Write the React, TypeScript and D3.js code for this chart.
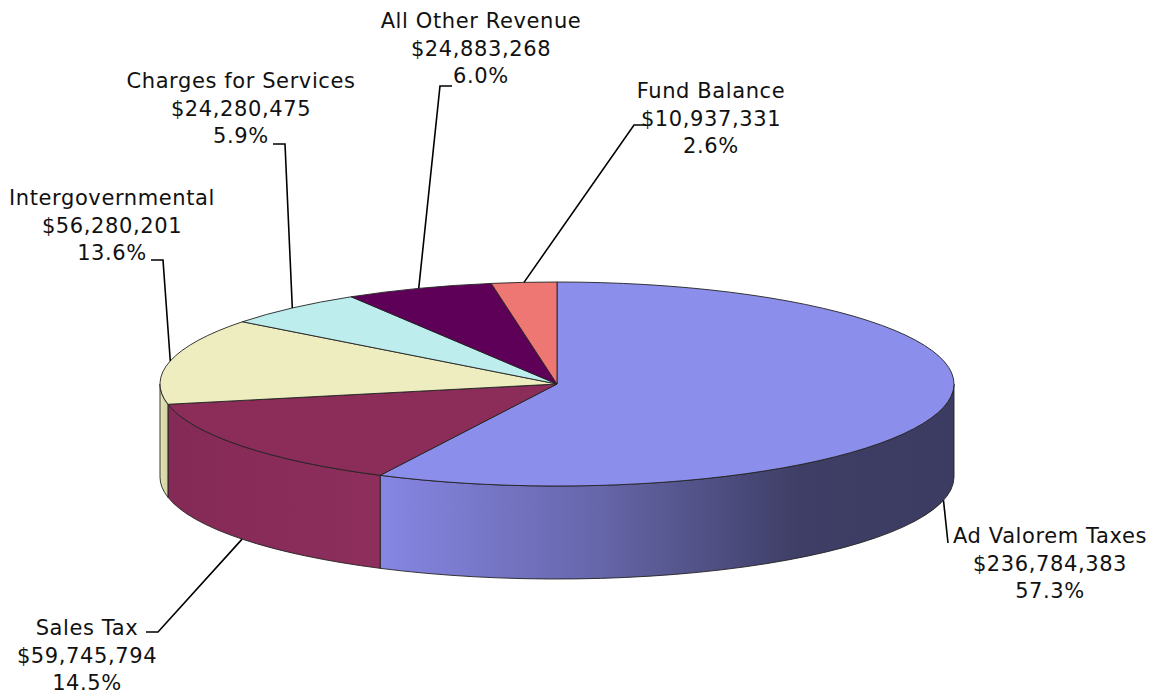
import React from 'react';
import * as d3 from 'd3';

const categories = ['Ad Valorem Taxes', 'Sales Tax', 'Intergovernmental', 'Charges for Services', 'All Other Revenue', 'Fund Balance'];
const amounts = [236784383, 59745794, 56280201, 24280475, 24883268, 10937331];
const percents = ['57.3%', '14.5%', '13.6%', '5.9%', '6.0%', '2.6%'];
const topColors = ['#8B8EEA', '#8B2D58', '#EEEDC0', '#BDEDED', '#5E0058', '#EE7774'];
const sideColors = [
  ['#8686E4', '#6666AA', '#3E3E66', '#3C3C62'],
  ['#842A56', '#882B58', '#8A2D5A', '#8E2E5C'],
  ['#E6E6B6', '#DCDCAC', '#D8D8A8', '#D4D4A4'],
  ['#BDEDED', '#BDEDED', '#BDEDED', '#BDEDED'],
  ['#5E0058', '#5E0058', '#5E0058', '#5E0058'],
  ['#EE7774', '#EE7774', '#EE7774', '#EE7774'],
];

// label layout: text centre x, first line centre y, elbow point, end of the short tick
const labelLayout = [
  { tx: 1050, ty: 536, elbow: [948, 543], tick: [948, 543] },
  { tx: 87, ty: 628, elbow: [158, 632], tick: [146, 632] },
  { tx: 112, ty: 198, elbow: [163, 260], tick: [151, 260] },
  { tx: 241, ty: 81, elbow: [285, 144], tick: [273, 144] },
  { tx: 481, ty: 21, elbow: [440, 86], tick: [452, 86] },
  { tx: 711, ty: 91, elbow: [634, 125], tick: [646, 125] },
];

const W = 1164, H = 696;
const cx = 557, cy = 384, rx = 397, ry = 102, depth = 93;

const pt = (a: number, dy = 0): [number, number] => [cx + rx * Math.sin(a), cy - ry * Math.cos(a) + dy];

function topPath(a0: number, a1: number) {
  const p0 = pt(a0), p1 = pt(a1);
  const large = a1 - a0 > Math.PI ? 1 : 0;
  return `M${cx},${cy}L${p0[0]},${p0[1]}A${rx},${ry} 0 ${large} 1 ${p1[0]},${p1[1]}Z`;
}

function sidePath(a0: number, a1: number) {
  const s0 = Math.max(a0, Math.PI / 2), s1 = Math.min(a1, Math.PI * 1.5);
  if (s0 >= s1) return null;
  const p0 = pt(s0), p1 = pt(s1), q0 = pt(s0, depth), q1 = pt(s1, depth);
  return `M${p0[0]},${p0[1]}A${rx},${ry} 0 0 1 ${p1[0]},${p1[1]}L${q1[0]},${q1[1]}A${rx},${ry} 0 0 0 ${q0[0]},${q0[1]}Z`;
}

const fmt = d3.format('$,');

export default function App() {
  const pie = d3.pie<number>().sort(null).startAngle(0).endAngle(2 * Math.PI);
  const arcs = pie(amounts);

  return (
    <svg width={W} height={H} style={{ position: 'absolute', left: 0, top: 0, background: '#fff' }}
      fontFamily="'DejaVu Sans', sans-serif" fontSize={21}>
      <defs>
        {arcs.map((a, i) => {
          const s0 = Math.max(a.startAngle, Math.PI / 2), s1 = Math.min(a.endAngle, Math.PI * 1.5);
          const xs = [pt(s0)[0], pt(s1)[0]];
          return (
            <linearGradient key={i} id={`side${i}`} gradientUnits="userSpaceOnUse"
              x1={Math.min(...xs)} x2={Math.max(...xs)} y1={0} y2={0}>
              {sideColors[i].map((c, j) => (
                <stop key={j} offset={i === 0 ? [0, 0.38, 0.73, 1][j] : j / 3} stopColor={c} />
              ))}
            </linearGradient>
          );
        })}
      </defs>
      <g>
        {arcs.map((a, i) => {
          const d = sidePath(a.startAngle, a.endAngle);
          return d ? <path key={i} d={d} fill={`url(#side${i})`} stroke="#222" strokeWidth={0.9} strokeLinejoin="round" /> : null;
        })}
      </g>
      <g>
        {arcs.map((a, i) => (
          <path key={i} d={topPath(a.startAngle, a.endAngle)} fill={topColors[i]} stroke="#222" strokeWidth={0.9} strokeLinejoin="round" />
        ))}
      </g>
      <g>
        {arcs.map((a, i) => {
          const mid = (a.startAngle + a.endAngle) / 2;
          const front = mid > Math.PI / 2 && mid < Math.PI * 1.5;
          const p = pt(mid, front ? depth : 0);
          const L = labelLayout[i];
          return (
            <polyline key={i} fill="none" stroke="#000" strokeWidth={1.6}
              points={`${p[0]},${p[1]} ${L.elbow[0]},${L.elbow[1]} ${L.tick[0]},${L.tick[1]}`} />
          );
        })}
      </g>
      <g textAnchor="middle" fill="#111" letterSpacing={0.6}>
        {categories.map((c, i) => {
          const L = labelLayout[i];
          return (
            <text key={c} x={L.tx} y={L.ty + 7}>
              <tspan x={L.tx}>{c}</tspan>
              <tspan x={L.tx} dy={27.5}>{fmt(amounts[i])}</tspan>
              <tspan x={L.tx} dy={27.5}>{percents[i]}</tspan>
            </text>
          );
        })}
      </g>
    </svg>
  );
}
